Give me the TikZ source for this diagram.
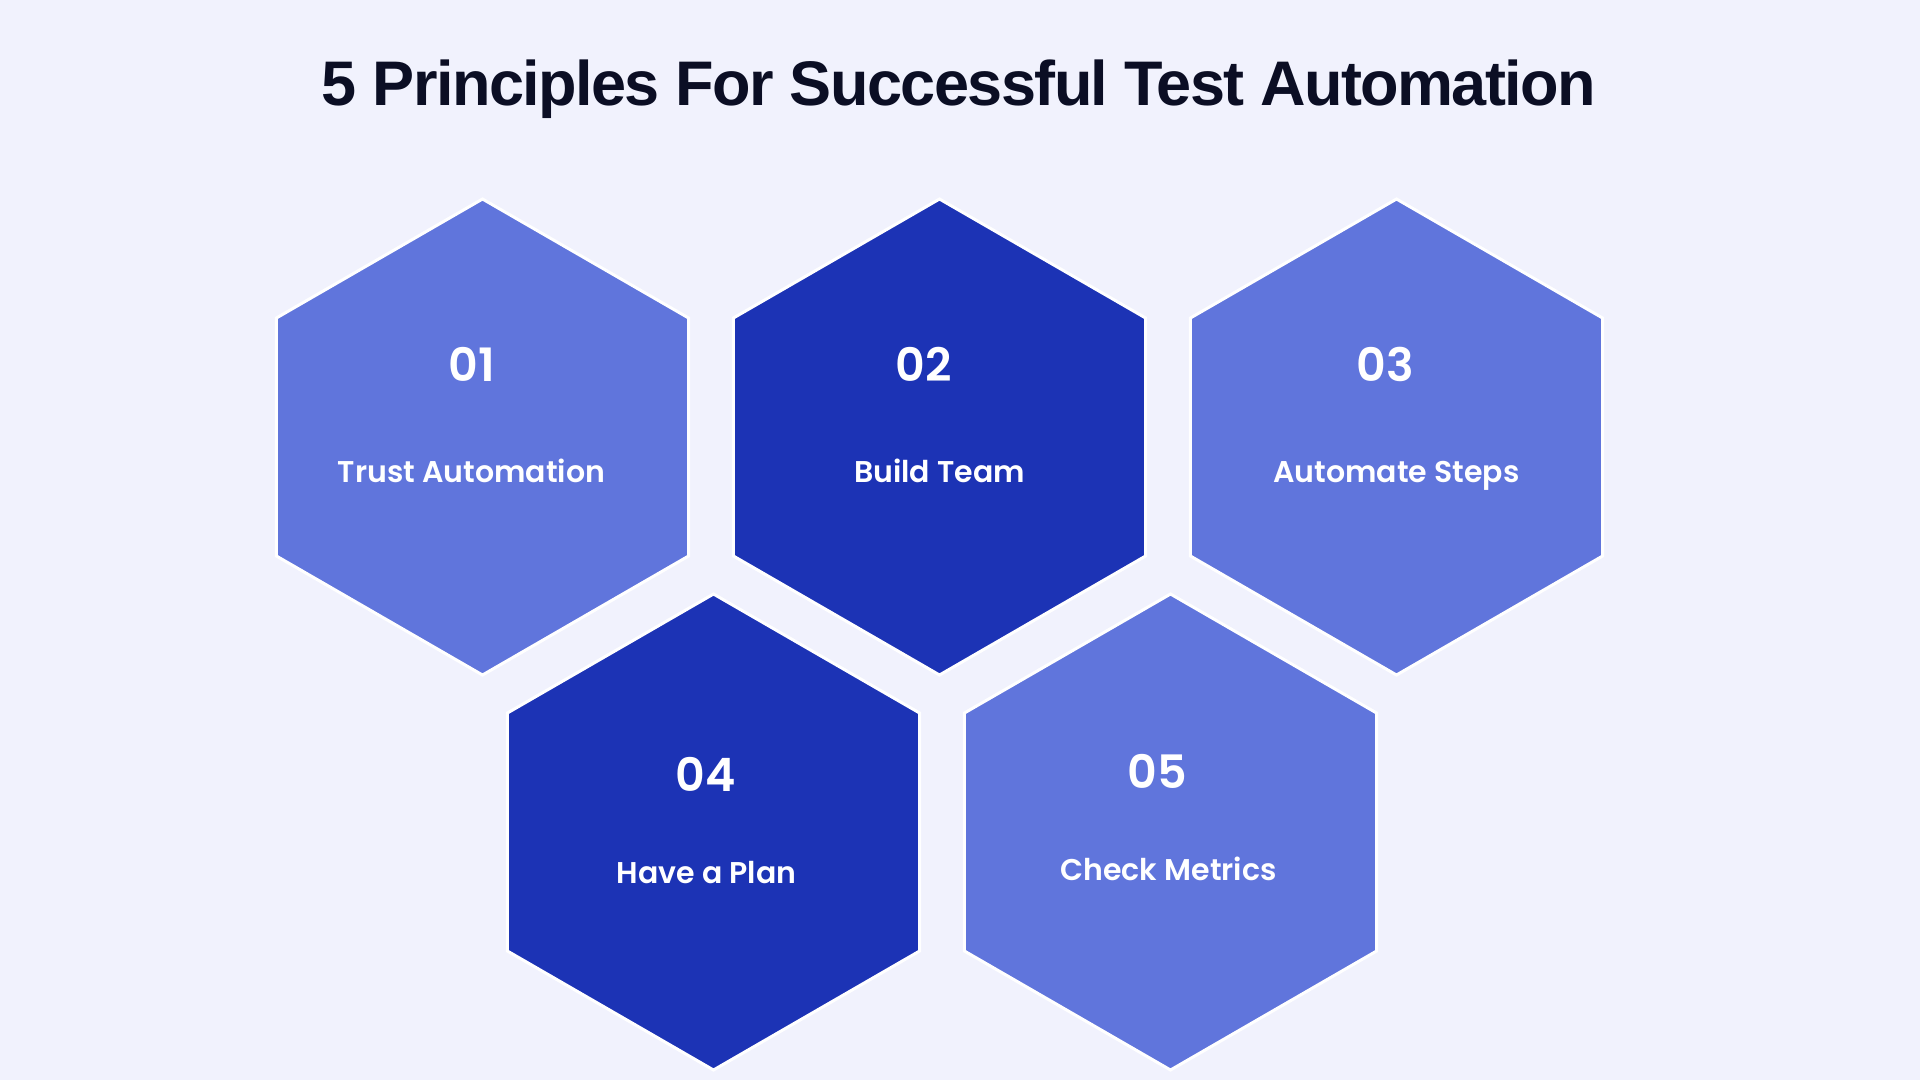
\documentclass[tikz,border=0pt]{standalone}
\usepackage{fontspec}
\setmainfont{Liberation Sans}
\newfontfamily\titlefont{Liberation Sans}[LetterSpace=-2.5]
\newfontfamily\hexfont{Poppins}[BoldFont={* SemiBold}]
\usetikzlibrary{shapes.geometric, positioning}
\definecolor{pagebg}{HTML}{F1F2FD}
\definecolor{hexlight}{HTML}{6075DC}
\definecolor{hexdark}{HTML}{1C33B5}
\definecolor{titleink}{HTML}{0B0E24}

\begin{document}
\begin{tikzpicture}[
    x=1pt, y=1pt,
    node distance=457pt,
    on grid,
    hex/.style={regular polygon, regular polygon sides=6, shape border rotate=30,
        minimum size=476pt, inner sep=0pt, draw=white, line width=3pt},
    light/.style={hex, fill=hexlight},
    dark/.style={hex, fill=hexdark},
    num/.style={text=white, text height=32pt, text depth=0pt,
        font=\hexfont\bfseries\fontsize{46}{46}\selectfont},
    label/.style={text=white, text height=22pt, text depth=0pt,
        font=\hexfont\bfseries\fontsize{30}{30}\selectfont}
]
   \useasboundingbox[fill=pagebg] (0,0) rectangle (1920,-1080);

   % Title
   \node[text=titleink, font=\titlefont\bfseries\fontsize{63}{63}\selectfont] (title) at (959,-89)
      {5 Principles For Successful Test Automation};

   % Hexagons
   \node[light] (h1) at (482.5,-437) {};
   \node[dark] (h2) [right=of h1] {};
   \node[light] (h3) [right=of h2] {};
   \node[dark] (h4) [below right=395pt and 231pt of h1] {};
   \node[light] (h5) [right=of h4] {};

   % Numbers and labels
   \node[num] (n1) [above=72pt of h1, xshift=-11pt] {01};
   \node[label] (t1) [below=34pt of h1, xshift=-11pt] {Trust Automation};
   \node[num] (n2) [above=72pt of h2, xshift=-16pt] {02};
   \node[label] (t2) [below=34pt of h2] {Build Team};
   \node[num] (n3) [above=72pt of h3, xshift=-11pt] {03};
   \node[label] (t3) [below=34pt of h3] {Automate Steps};

   \node[num] (n4) [above=57pt of h4, xshift=-8pt] {04};
   \node[label] (t4) [below=40pt of h4, xshift=-7pt] {Have a Plan};
   \node[num] (n5) [above=60pt of h5, xshift=-13pt] {05};
   \node[label] (t5) [below=37pt of h5, xshift=-2pt] {Check Metrics};
\end{tikzpicture}
\end{document}
